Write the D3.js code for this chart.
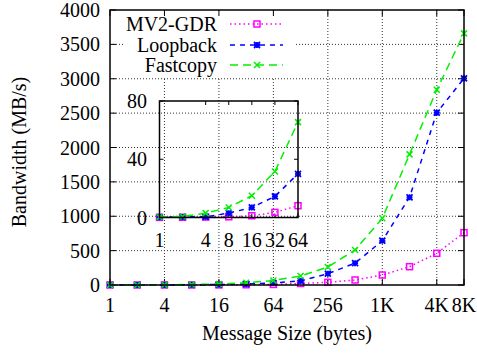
<!DOCTYPE html>
<html>
<head>
<meta charset="utf-8">
<script src="https://cdn.jsdelivr.net/npm/d3@7"></script>
<style>
  html, body { margin: 0; padding: 0; background: #fff; }
</style>
</head>
<body>
<svg id="chart" width="477" height="353" font-family="'Liberation Serif', 'DejaVu Serif', serif"></svg>
<script>
// Message sizes in bytes (powers of two)
const sizes = [1, 2, 4, 8, 16, 32, 64, 128, 256, 512, 1024, 2048, 4096, 8192];

// Bandwidth in MB/s for each transport
const mv2gdr   = [0.1, 0.15, 0.3, 0.5, 1.2, 3.5, 8.1, 22, 39, 73, 145, 266, 461, 761];
const loopback = [0.2, 0.4, 0.5, 3.0, 6.9, 14.5, 30, 60, 165, 318, 644, 1275, 2506, 3006];
const fastcopy = [0.3, 0.7, 3.0, 6.9, 15, 31.6, 65.5, 131, 262, 509, 970, 1900, 2840, 3660];

// Axis tick values and labels
const xTicks = [1, 4, 16, 64, 256, 1024, 4096, 8192];
const xTickLabels = ["1", "4", "16", "64", "256", "1K", "4K", "8K"];
const yTicks = [0, 500, 1000, 1500, 2000, 2500, 3000, 3500, 4000];

const insetXTicks = [1, 4, 8, 16, 32, 64];
const insetYTicks = [0, 40, 80];
const insetMaxSize = 64;

const seriesNames = ["MV2-GDR", "Loopback", "Fastcopy"];

const series = [
  { name: seriesNames[0], values: mv2gdr,   color: "#ff00ff", dash: "1.5,3", marker: "square" },
  { name: seriesNames[1], values: loopback, color: "#0000ff", dash: "5,5",   marker: "star" },
  { name: seriesNames[2], values: fastcopy, color: "#00f000", dash: "8,5",   marker: "cross" }
];

const svg = d3.select("#chart");
const FS = 20;

// Main plot geometry
const L = 110, R = 464, T = 10, B = 285;
const x = d3.scaleLog().base(2).domain([1, 8192]).range([L, R]);
const y = d3.scaleLinear().domain([0, 4000]).range([B, T]);

function drawMarker(g, type, cx, cy, color) {
  const s = 3;
  if (type === "square") {
    g.append("rect").attr("x", cx - s).attr("y", cy - s).attr("width", 2 * s).attr("height", 2 * s)
      .attr("fill", "none").attr("stroke", color).attr("stroke-width", 1.5);
  } else if (type === "star") {
    const p = d3.path();
    p.moveTo(cx - s, cy); p.lineTo(cx + s, cy);
    p.moveTo(cx, cy - s); p.lineTo(cx, cy + s);
    p.moveTo(cx - s, cy - s); p.lineTo(cx + s, cy + s);
    p.moveTo(cx - s, cy + s); p.lineTo(cx + s, cy - s);
    g.append("path").attr("d", p.toString()).attr("stroke", color).attr("stroke-width", 1.8).attr("fill", "none");
  } else {
    const p = d3.path();
    p.moveTo(cx - s, cy - s); p.lineTo(cx + s, cy + s);
    p.moveTo(cx - s, cy + s); p.lineTo(cx + s, cy - s);
    g.append("path").attr("d", p.toString()).attr("stroke", color).attr("stroke-width", 1.5).attr("fill", "none");
  }
}

// Grid lines
const grid = svg.append("g").attr("stroke", "#333").attr("stroke-width", 1).attr("stroke-dasharray", "1,2");
yTicks.filter(v => v > 0 && v < 4000).forEach(v => {
  grid.append("line").attr("x1", L).attr("x2", R).attr("y1", y(v)).attr("y2", y(v));
});
xTicks.filter(v => v > 1 && v < 8192).forEach(v => {
  grid.append("line").attr("x1", x(v)).attr("x2", x(v)).attr("y1", T).attr("y2", B);
});

// Legend background hides the grid behind the key
svg.append("rect").attr("x", 123).attr("y", T + 1).attr("width", 172).attr("height", 66).attr("fill", "#fff");

// Ticks (inward, mirrored)
const ticks = svg.append("g").attr("stroke", "#000").attr("stroke-width", 1);
const tl = 6;
yTicks.forEach(v => {
  ticks.append("line").attr("x1", L).attr("x2", L + tl).attr("y1", y(v)).attr("y2", y(v));
  ticks.append("line").attr("x1", R).attr("x2", R - tl).attr("y1", y(v)).attr("y2", y(v));
});
xTicks.forEach(v => {
  ticks.append("line").attr("x1", x(v)).attr("x2", x(v)).attr("y1", B).attr("y2", B - tl);
  ticks.append("line").attr("x1", x(v)).attr("x2", x(v)).attr("y1", T).attr("y2", T + tl);
});

// Tick labels
svg.append("g").selectAll("text").data(yTicks).join("text")
  .attr("x", 100).attr("y", d => y(d)).attr("dy", "0.35em")
  .attr("text-anchor", "end").attr("font-size", FS).text(d => d);
svg.append("g").selectAll("text").data(xTicks).join("text")
  .attr("x", d => x(d)).attr("y", 312)
  .attr("text-anchor", "middle").attr("font-size", FS).text((d, i) => xTickLabels[i]);

// Axis titles
svg.append("text").attr("x", 287).attr("y", 340).attr("text-anchor", "middle").attr("font-size", FS)
  .text("Message Size (bytes)");
svg.append("text").attr("transform", "translate(26,152) rotate(-90)").attr("text-anchor", "middle")
  .attr("font-size", FS).text("Bandwidth (MB/s)");

// Main series
const mainLine = d3.line().x(d => x(d[0])).y(d => y(d[1]));
series.forEach(s => {
  const pts = sizes.map((sz, i) => [sz, s.values[i]]);
  svg.append("path").attr("d", mainLine(pts)).attr("fill", "none")
    .attr("stroke", s.color).attr("stroke-width", 1.5).attr("stroke-dasharray", s.dash);
  const g = svg.append("g");
  pts.forEach(p => drawMarker(g, s.marker, x(p[0]), y(p[1]), s.color));
});

// Legend entries
const legendY = [24, 45, 65];
series.forEach((s, i) => {
  svg.append("text").attr("x", 217).attr("y", legendY[i]).attr("dy", "0.35em")
    .attr("text-anchor", "end").attr("font-size", FS).text(s.name);
  svg.append("line").attr("x1", 230).attr("x2", 283).attr("y1", legendY[i]).attr("y2", legendY[i])
    .attr("stroke", s.color).attr("stroke-width", 1.5).attr("stroke-dasharray", s.dash);
  drawMarker(svg.append("g"), s.marker, 257, legendY[i], s.color);
});

// Inset: small message sizes
const iL = 159.5, iR = 298, iT = 101, iB = 217.5;
const xi = d3.scaleLog().base(2).domain([1, insetMaxSize]).range([iL, iR]);
const yi = d3.scaleLinear().domain([0, 80]).range([iB, iT]);

const iticks = svg.append("g").attr("stroke", "#000").attr("stroke-width", 1);
insetYTicks.forEach(v => {
  iticks.append("line").attr("x1", iL).attr("x2", iL + 4).attr("y1", yi(v)).attr("y2", yi(v));
  iticks.append("line").attr("x1", iR).attr("x2", iR - 4).attr("y1", yi(v)).attr("y2", yi(v));
});
insetXTicks.forEach(v => {
  iticks.append("line").attr("x1", xi(v)).attr("x2", xi(v)).attr("y1", iB).attr("y2", iB - 4);
  iticks.append("line").attr("x1", xi(v)).attr("x2", xi(v)).attr("y1", iT).attr("y2", iT + 4);
});

svg.append("g").selectAll("text").data(insetYTicks).join("text")
  .attr("x", 147).attr("y", d => yi(d)).attr("dy", "0.35em")
  .attr("text-anchor", "end").attr("font-size", FS).text(d => d);
svg.append("g").selectAll("text").data(insetXTicks).join("text")
  .attr("x", d => xi(d)).attr("y", 247)
  .attr("text-anchor", "middle").attr("font-size", FS).text(d => d);

const insetLine = d3.line().x(d => xi(d[0])).y(d => yi(d[1]));
series.forEach(s => {
  const pts = sizes.map((sz, i) => [sz, s.values[i]]).filter(p => p[0] <= insetMaxSize);
  svg.append("path").attr("d", insetLine(pts)).attr("fill", "none")
    .attr("stroke", s.color).attr("stroke-width", 1.5).attr("stroke-dasharray", s.dash);
  const g = svg.append("g");
  pts.forEach(p => drawMarker(g, s.marker, xi(p[0]), yi(p[1]), s.color));
});

svg.append("rect").attr("x", iL).attr("y", iT).attr("width", iR - iL).attr("height", iB - iT)
  .attr("fill", "none").attr("stroke", "#000").attr("stroke-width", 1.5);

// Main border
svg.append("rect").attr("x", L).attr("y", T).attr("width", R - L).attr("height", B - T)
  .attr("fill", "none").attr("stroke", "#000").attr("stroke-width", 1.5);
</script>
</body>
</html>
